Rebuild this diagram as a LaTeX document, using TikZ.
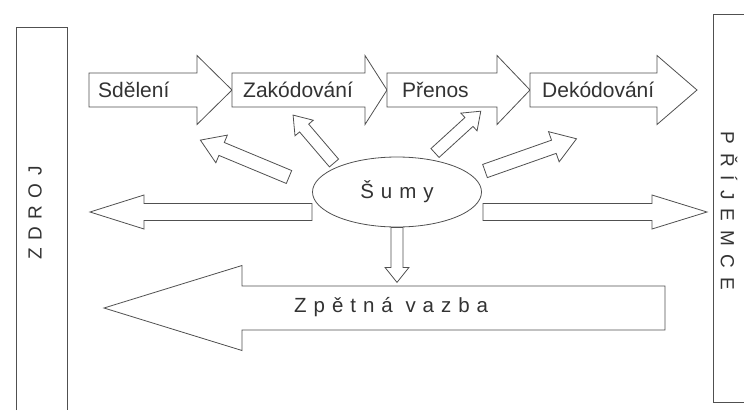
\documentclass[tikz,border=0pt]{standalone}
\usepackage{fontspec}
\setmainfont{Liberation Sans}
\newfontfamily\spacedfont[LetterSpace=34]{Liberation Sans}
\newfontfamily\widefont[LetterSpace=40]{Liberation Sans}
\newfontfamily\widerfont[LetterSpace=47]{Liberation Sans}
\usetikzlibrary{shapes.geometric}
\definecolor{linec}{HTML}{505050}
\definecolor{textc}{HTML}{333333}
\tikzset{
  arr/.style={draw=linec, line width=0.8pt, fill=white},
  lbl/.style={text=textc, inner sep=0pt, font=\fontsize{21}{24}\selectfont},
  pics/blockarr/.style args={#1/#2/#3/#4}{code={
    \draw[arr] (0,-#2/2) -- (#1-#4,-#2/2) -- (#1-#4,-#3/2) -- (#1,0)
      -- (#1-#4,#3/2) -- (#1-#4,#2/2) -- (0,#2/2) -- cycle;
  }},
}

\begin{document}
\begin{tikzpicture}[x=1pt, y=-1pt]
\useasboundingbox (0,0) rectangle (744,410);
% Zdroj / Prijemce
\draw[linec, line width=0.8pt] (16,410) -- (16,27) -- (67,27) -- (67,410);
\draw[linec, line width=0.8pt] (744,14) -- (713,14) -- (713,402) -- (744,402);
\node[lbl, rotate=90, font=\widefont\fontsize{19}{22}\selectfont] (zdroj) at (35,213) {ZDROJ};
\node[lbl, rotate=-90, font=\widerfont\fontsize{19}{22}\selectfont] (prijemce) at (729,211) {PŘÍJEMCE};
% process
\pic at (89,90) {blockarr=143/34/69/35};
\pic at (232,90) {blockarr=155/34/69/22};
\pic at (387,90) {blockarr=143/34/69/33};
\pic at (530,90) {blockarr=167/34/69/40};
\node[lbl, anchor=base west] (sdeleni) at (98,97.5) {Sdělení};
\node[lbl, anchor=base west] (zakodovani) at (243,97.5) {Zakódování};
\node[lbl, anchor=base west] (prenos) at (402,97.5) {Přenos};
\node[lbl, anchor=base west] (dekodovani) at (542,97.5) {Dekódování};
% noise
\node[ellipse, draw=linec, line width=0.8pt, minimum width=169, minimum height=70,
  inner sep=0pt, text=textc, font=\spacedfont\fontsize{20.5}{24}\selectfont] (sumy) at (397,192) {Šumy};
\pic[rotate=157.4] at (289,177) {blockarr=96/14/30/23};
\pic[rotate=130.5] at (334,163) {blockarr=63/12/24/17};
\pic[rotate=42.4] at (435,153) {blockarr=62/12/24/16};
\pic[rotate=19.4] at (485,171) {blockarr=97/14/32/24};
\pic[rotate=180] at (312,212) {blockarr=222/17/34/54};
\pic at (483,212) {blockarr=224/17/34/55};
\pic[rotate=-90] at (sumy.south) {blockarr=55/12/24/15};
% feedback
\pic[rotate=180] at (665,308) {blockarr=561/44/85/138};
\node[lbl, anchor=base west, font=\spacedfont\fontsize{20.5}{24}\selectfont] (vazba) at (294,312) {Zpětná vazba};
\end{tikzpicture}
\end{document}
